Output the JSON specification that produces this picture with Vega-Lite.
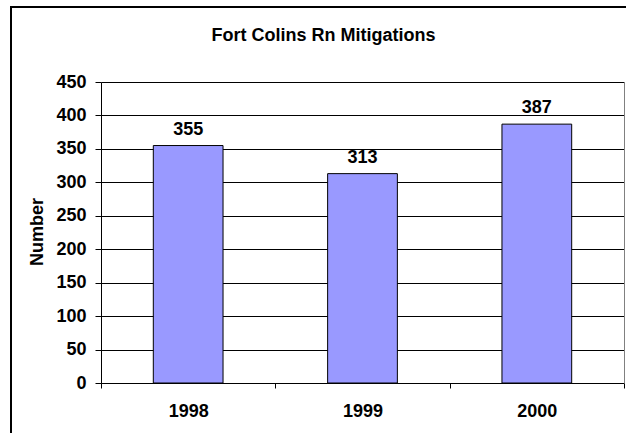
{
  "$schema": "https://vega.github.io/schema/vega-lite/v6.json",
  "autosize": "none",
  "padding": {"left": 11, "top": 7, "right": 0, "bottom": 0},
  "width": 625,
  "height": 440,
  "title": {
    "text": "Fort Colins Rn Mitigations",
    "font": "Liberation Sans",
    "fontSize": 18,
    "fontWeight": "bold",
    "color": "#000",
    "anchor": "middle",
    "frame": "group",
    "baseline": "alphabetic",
    "offset": -52
  },
  "data": {
    "values": [
      {"year": "1998", "count": 355},
      {"year": "1999", "count": 313},
      {"year": "2000", "count": 387}
    ]
  },
  "resolve": {"axis": {"y": "independent"}},
  "layer": [
    {
      "mark": {"type": "bar", "color": "#9999FF", "stroke": "#000", "strokeWidth": 1, "width": {"band": 0.4}},
      "encoding": {
        "x": {
          "field": "year",
          "type": "nominal",
          "scale": {"type": "band", "range": [90, 613], "paddingInner": 0, "paddingOuter": 0},
          "axis": {
            "orient": "bottom",
            "offset": -64,
            "title": null,
            "labelAngle": 0,
            "tickBand": "extent",
            "domainColor": "#000",
            "tickColor": "#000",
            "tickSize": 5,
            "labelFont": "Liberation Sans",
            "labelFontSize": 18,
            "labelFontWeight": "bold",
            "labelColor": "#000",
            "labelPadding": 14
          }
        },
        "y": {
          "field": "count",
          "type": "quantitative",
          "scale": {"domain": [0, 450], "nice": false, "range": [376, 75]},
          "axis": {
            "orient": "left",
            "offset": -90,
            "values": [0, 50, 100, 150, 200, 250, 300, 350, 400, 450],
            "grid": true,
            "gridColor": "#000",
            "gridWidth": 1,
            "gridOpacity": 1,
            "domainColor": "#000",
            "tickColor": "#000",
            "tickSize": 6,
            "labelFont": "Liberation Sans",
            "labelFontSize": 18,
            "labelFontWeight": "bold",
            "labelColor": "#000",
            "labelPadding": 9,
            "title": "Number",
            "titleFont": "Liberation Sans",
            "titleFontSize": 18,
            "titleFontWeight": "bold",
            "titleColor": "#000",
            "titleBaseline": "alphabetic",
            "titleX": -59,
            "titleY": 224.5
          }
        }
      }
    },
    {
      "mark": {"type": "text", "dy": -11, "baseline": "alphabetic", "font": "Liberation Sans", "fontSize": 18, "fontWeight": "bold", "color": "#000"},
      "encoding": {
        "x": {"field": "year", "type": "nominal"},
        "y": {
          "field": "count",
          "type": "quantitative",
          "axis": {
            "orient": "right",
            "offset": -12,
            "grid": false,
            "ticks": false,
            "labels": false,
            "title": null,
            "domainColor": "#808080",
            "domainWidth": 1
          }
        },
        "text": {"field": "count", "type": "quantitative"}
      }
    }
  ],
  "config": {
    "view": {"stroke": "#000", "strokeWidth": 2, "fill": "#fff"},
    "background": "#fff"
  }
}
